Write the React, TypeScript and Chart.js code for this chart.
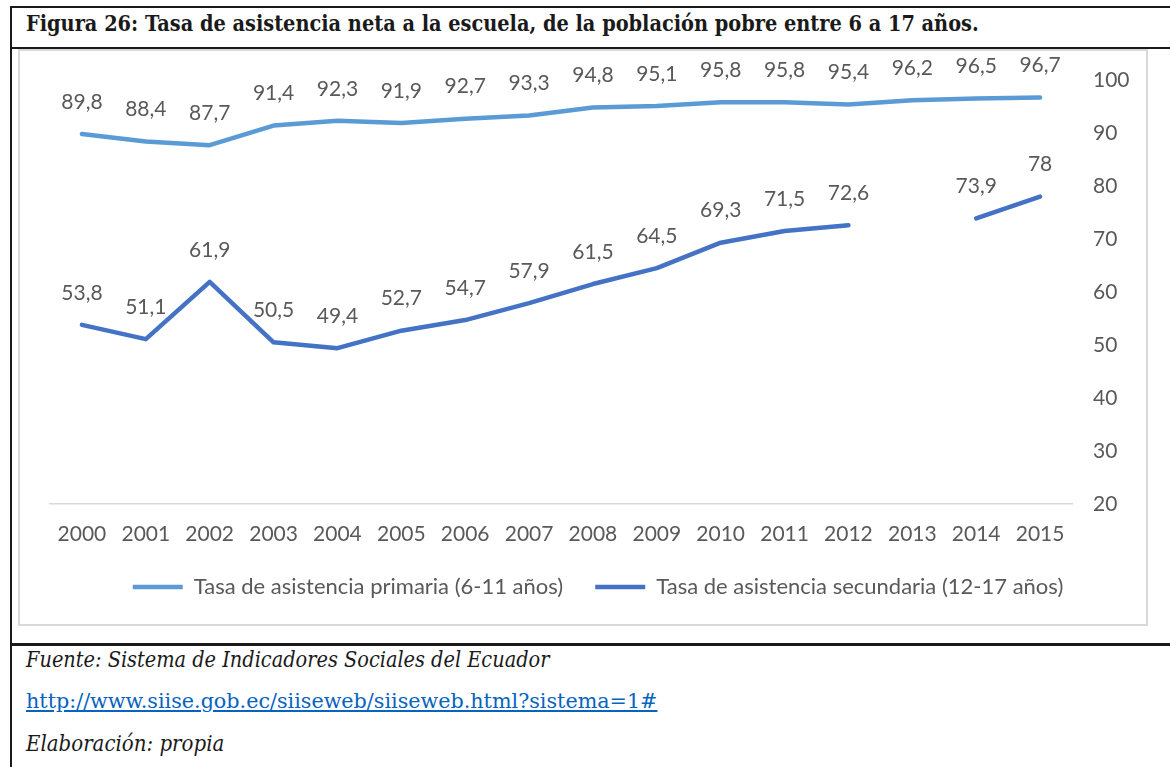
import React, { useEffect, useRef } from "react";
import { Chart, registerables } from "chart.js";

Chart.register(...registerables);

const years = ["2000","2001","2002","2003","2004","2005","2006","2007","2008","2009","2010","2011","2012","2013","2014","2015"];
const primaria = [89.8, 88.4, 87.7, 91.4, 92.3, 91.9, 92.7, 93.3, 94.8, 95.1, 95.8, 95.8, 95.4, 96.2, 96.5, 96.7];
const secundaria = [53.8, 51.1, 61.9, 50.5, 49.4, 52.7, 54.7, 57.9, 61.5, 64.5, 69.3, 71.5, 72.6, null, 73.9, 78];
const seriesNames = ["Tasa de asistencia primaria (6-11 años)", "Tasa de asistencia secundaria (12-17 años)"];
const yMin = 20;
const yMax = 100;
const yStep = 10;

const FONT = "Lato";
const GREY = "#595959";

const fmt = (v: number) => String(v).replace(".", ",");

const labelPlugin = {
  id: "dataLabels",
  afterDatasetsDraw(chart: any) {
    const ctx = chart.ctx;
    ctx.save();
    ctx.font = `21px ${FONT}`;
    ctx.fillStyle = GREY;
    ctx.textAlign = "center";
    ctx.textBaseline = "middle";
    chart.data.datasets.forEach((ds: any, i: number) => {
      const meta = chart.getDatasetMeta(i);
      meta.data.forEach((pt: any, j: number) => {
        const v = ds.data[j];
        if (v === null || v === undefined) return;
        ctx.fillText(fmt(v), pt.x, pt.y - 32);
      });
    });
    ctx.restore();
  },
};

function ChartBox() {
  const ref = useRef<HTMLCanvasElement>(null);
  useEffect(() => {
    if (!ref.current) return;
    const chart = new Chart(ref.current, {
      type: "line",
      data: {
        labels: years,
        datasets: [
          {
            label: seriesNames[0],
            data: primaria,
            borderColor: "#5B9BD5",
            backgroundColor: "#5B9BD5",
            borderWidth: 4.5,
            borderCapStyle: "round",
            borderJoinStyle: "round",
            pointRadius: 0,
            tension: 0,
          },
          {
            label: seriesNames[1],
            data: secundaria,
            borderColor: "#4472C4",
            backgroundColor: "#4472C4",
            borderWidth: 4.5,
            borderCapStyle: "round",
            borderJoinStyle: "round",
            pointRadius: 0,
            tension: 0,
            spanGaps: false,
          },
        ],
      },
      options: {
        animation: false,
        responsive: false,
        maintainAspectRatio: false,
        layout: { padding: { left: 30, top: 28, right: 0, bottom: 16 } },
        plugins: {
          tooltip: { enabled: false },
          legend: {
            position: "bottom",
            labels: {
              usePointStyle: true,
              pointStyle: "line",
              pointStyleWidth: 50,
              padding: 32,
              color: GREY,
              font: { family: FONT, size: 22 },
            },
          },
        },
        scales: {
          x: {
            offset: true,
            grid: { display: false, drawTicks: false, offset: true },
            border: { display: true, color: "#D9D9D9", width: 1.5 },
            ticks: { color: GREY, font: { family: FONT, size: 21 }, padding: 18, maxRotation: 0, autoSkip: false },
            afterFit: (s: any) => { s.height = 40; },
          },
          y: {
            position: "right",
            min: yMin,
            max: yMax,
            grid: { display: false, drawTicks: true, tickLength: 21 },
            border: { display: false },
            ticks: { stepSize: yStep, color: GREY, font: { family: FONT, size: 21 }, padding: 0 },
            afterFit: (s: any) => { s.width = 74; },
          },
        },
      },
      plugins: [labelPlugin],
    } as any);
    return () => chart.destroy();
  }, []);
  return <canvas ref={ref} width={1126} height={572} style={{ position: "absolute", left: 20, top: 52, width: 1126, height: 572 }} />;
}

export default function App() {
  const serifC = "'DejaVu Serif Condensed', 'DejaVu Serif', serif";
  const serif = "'DejaVu Serif', serif";
  const line = (s: React.CSSProperties) => <div style={{ position: "absolute", background: "#1a1a1a", ...s }} />;
  return (
    <div style={{ position: "relative", width: 1170, height: 767, overflow: "hidden", background: "#fff" }}>
      <style>{`body{margin:0;background:#fff}`}</style>
      {line({ left: 10, top: 6, width: 1160, height: 2 })}
      {line({ left: 10, top: 6, width: 2, height: 761 })}
      {line({ left: 10, top: 47, width: 1160, height: 2 })}
      {line({ left: 10, top: 643, width: 1160, height: 3 })}
      <div style={{ position: "absolute", left: 26, top: 9.5, fontFamily: serifC, fontWeight: "bold", fontSize: 21.5, lineHeight: "28px", color: "#1a1a1a", whiteSpace: "nowrap" }}>
        Figura 26: Tasa de asistencia neta a la escuela, de la población pobre entre 6 a 17 años.
      </div>
      <div style={{ position: "absolute", left: 18, top: 49, width: 1126, height: 573, border: "2px solid #D9D9D9" }} />
      <ChartBox />
      <div style={{ position: "absolute", left: 26, top: 645.5, fontFamily: serifC, fontStyle: "italic", fontSize: 21.5, lineHeight: "28px", color: "#1a1a1a", whiteSpace: "nowrap" }}>
        Fuente: Sistema de Indicadores Sociales del Ecuador
      </div>
      <div style={{ position: "absolute", left: 26, top: 687, fontFamily: serif, fontSize: 20.7, lineHeight: "28px", color: "#0563C1", textDecoration: "underline", whiteSpace: "nowrap" }}>
        http://www.siise.gob.ec/siiseweb/siiseweb.html?sistema=1#
      </div>
      <div style={{ position: "absolute", left: 26, top: 729.5, fontFamily: serifC, fontStyle: "italic", fontSize: 22, lineHeight: "28px", color: "#1a1a1a", whiteSpace: "nowrap" }}>
        Elaboración: propia
      </div>
    </div>
  );
}
